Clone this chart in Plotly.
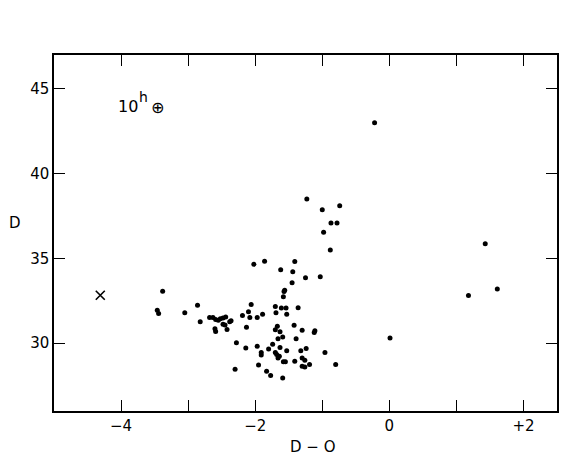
import plotly.graph_objects as go

# D-O colour vs D  (10h field)
dot_x = [-0.22, -1.23, -0.74, -1.00, -0.87, -0.78, -0.98, -0.88, 1.43, 1.61, 1.18, 0.01,
         -3.38, -3.46, -3.44, -3.05, -2.86, -2.82,
         -2.68, -2.63, -2.59, -2.55, -2.52, -2.48, -2.44, -2.48, -2.45, -2.38, -2.36, -2.60, -2.59, -2.42,
         -2.02, -1.86, -1.41, -1.62, -1.44, -1.25, -1.03, -1.45, -1.56, -1.57, -1.58,
         -2.06, -2.10, -2.19, -2.08, -1.97, -1.89, -1.70, -1.61, -1.54, -1.69, -1.53, -1.36,
         -2.13, -1.70, -1.67, -1.63, -1.66, -1.59, -1.42, -1.30, -1.11, -1.12, -1.39,
         -2.28, -2.14, -1.97, -1.91, -1.91, -1.80, -1.74, -1.70, -1.68, -1.63, -1.66, -1.64,
         -1.53, -1.58, -1.55, -1.41, -1.32, -1.24, -1.30, -1.26, -1.30, -1.26, -1.19, -0.96, -0.80,
         -2.30, -1.95, -1.83, -1.77, -1.59]
dot_y = [43.0, 38.5, 38.11, 37.87, 37.09, 37.09, 36.54, 35.49, 35.87, 33.19, 32.81, 30.31,
         33.07, 31.95, 31.75, 31.79, 32.24, 31.26,
         31.52, 31.52, 31.40, 31.36, 31.44, 31.48, 31.54, 31.12, 31.08, 31.26, 31.32, 30.85, 30.69, 30.81,
         34.65, 34.84, 34.82, 34.33, 34.21, 33.86, 33.92, 33.56, 33.13, 33.05, 32.74,
         32.28, 31.85, 31.63, 31.52, 31.52, 31.71, 32.17, 32.07, 32.07, 31.79, 31.71, 32.09,
         30.94, 30.79, 31.00, 30.67, 30.26, 30.37, 31.06, 30.77, 30.73, 30.63, 30.26,
         30.02, 29.72, 29.82, 29.45, 29.31, 29.65, 29.94, 29.45, 29.33, 29.74, 29.13, 29.23,
         29.55, 28.90, 28.90, 28.94, 29.55, 29.69, 29.13, 29.00, 28.64, 28.60, 28.74, 29.45, 28.74,
         28.46, 28.72, 28.35, 28.09, 27.95]
cross_x = [-4.31]
cross_y = [32.83]

x_ticks = [-4, -3, -2, -1, 0, 1, 2]
x_ticktext = ["\u22124", "", "\u22122", "", "0", "", "+2"]
y_ticks = [30, 35, 40, 45]
y_ticktext = ["30", "35", "40", "45"]

fig = go.Figure()
fig.add_trace(go.Scatter(x=dot_x, y=dot_y, mode="markers",
                         marker=dict(color="black", size=5), showlegend=False))
fig.add_trace(go.Scatter(x=cross_x, y=cross_y, mode="markers",
                         marker=dict(symbol="x-thin", size=9, line=dict(color="black", width=1.6)),
                         showlegend=False))

font = "DejaVu Sans"
axis_common = dict(showgrid=False, zeroline=False, showline=True, linecolor="black", linewidth=1.5,
                   mirror="ticks", ticks="inside", ticklen=11, tickwidth=1.3, tickcolor="black",
                   tickfont=dict(family=font, size=15, color="black"))
fig.update_xaxes(range=[-5, 2.5], tickvals=x_ticks, ticktext=x_ticktext, **axis_common)
fig.update_yaxes(range=[26, 47], tickvals=y_ticks, ticktext=y_ticktext, **axis_common)

# field label "10h (+)"
fig.add_annotation(text="10", x=-3.90, y=43.94, xref="x", yref="y", showarrow=False,
                   font=dict(family=font, size=16, color="black"))
fig.add_annotation(text="h", x=-3.66, y=44.55, xref="x", yref="y", showarrow=False,
                   font=dict(family=font, size=14, color="black"))
fig.add_annotation(text="\u2295", x=-3.46, y=43.9, xref="x", yref="y", showarrow=False,
                   font=dict(family=font, size=16, color="black"))

fig.add_annotation(text="D", xref="paper", yref="paper", x=-0.077, y=0.528,
                   xanchor="center", yanchor="middle", showarrow=False,
                   font=dict(family=font, size=15, color="black"))
fig.add_annotation(text="D \u2212 O", xref="paper", yref="paper", x=0.513, y=-0.101,
                   xanchor="center", yanchor="middle", showarrow=False,
                   font=dict(family=font, size=15, color="black"))

# page has an 8px body margin, so the figure is sized to fit the 570x468 window
fig.update_layout(width=562, height=460, margin=dict(l=46, r=11, t=47, b=57),
                  plot_bgcolor="white", paper_bgcolor="white")
fig.write_html("out.html")
